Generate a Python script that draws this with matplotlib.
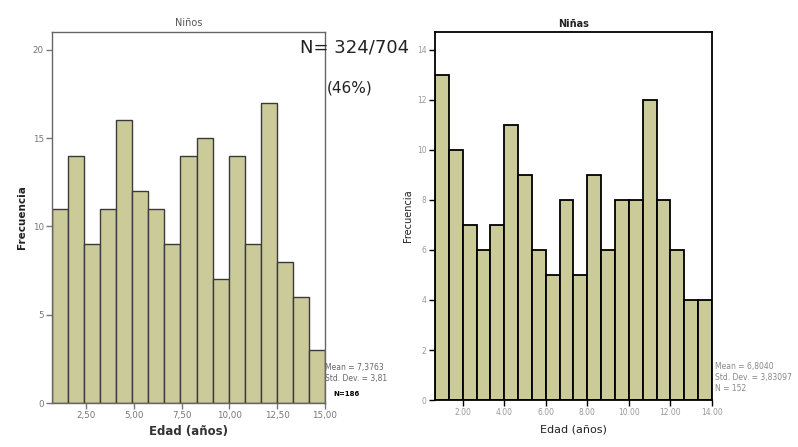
import matplotlib
matplotlib.use("Agg")
import matplotlib.pyplot as plt
import numpy as np

# Niños: 17 bins between 0.73 and 15
ninos_counts = [11, 14, 9, 11, 16, 12, 11, 9, 14, 15, 7, 14, 9, 17, 8, 6, 3]
ninos_range = (0.73, 15.0)
ninos_xticks = [2.5, 5.0, 7.5, 10.0, 12.5, 15.0]
ninos_xlabels = ["2,50", "5,00", "7,50", "10,00", "12,50", "15,00"]
ninos_yticks = [0, 5, 10, 15, 20]

# Niñas: 20 bins between 0.667 and 14
ninas_counts = [13, 10, 7, 6, 7, 11, 9, 6, 5, 8, 5, 9, 6, 8, 8, 12, 8, 6, 4, 4]
ninas_range = (2 / 3, 14.0)
ninas_xticks = [2, 4, 6, 8, 10, 12, 14]
ninas_xlabels = ["2.00", "4.00", "6.00", "8.00", "10.00", "12.00", "14.00"]
ninas_yticks = [0, 2, 4, 6, 8, 10, 12, 14]

bar_color = "#cbcb9a"

fig = plt.figure(figsize=(7.98, 4.47), dpi=100)
fig.patch.set_facecolor("white")


def draw_hist(ax, counts, rng, edge, lw):
    edges = np.linspace(rng[0], rng[1], len(counts) + 1)
    ax.bar(edges[:-1], counts, width=np.diff(edges), align="edge",
           color=bar_color, edgecolor=edge, linewidth=lw)
    ax.set_xlim(rng)


# left panel
ax1 = fig.add_axes([0.0652, 0.0984, 0.342, 0.830])
draw_hist(ax1, ninos_counts, ninos_range, "#3a3a3a", 1.0)
ax1.set_ylim(0, 21)
ax1.set_xticks(ninos_xticks)
ax1.set_xticklabels(ninos_xlabels)
ax1.set_yticks(ninos_yticks)
for s in ax1.spines.values():
    s.set_color("#666666")
    s.set_linewidth(1.0)
ax1.tick_params(colors="#777777", labelsize=6.3, length=4, width=1, pad=2)
ax1.set_title("Niños", fontsize=7, color="#555555", pad=4)
ax1.set_xlabel("Edad (años)", fontsize=8.5, fontweight="bold", color="#333333", labelpad=3)
ax1.set_ylabel("Frecuencia", fontsize=7.5, fontweight="bold", color="#222222", labelpad=4)
ax1.text(1.0, 0.055, "Mean = 7,3763\nStd. Dev. = 3,81", transform=ax1.transAxes,
         fontsize=5.5, color="#666666", va="bottom", ha="left", linespacing=1.3)
ax1.text(1.03, 0.015, "N=186", transform=ax1.transAxes, fontsize=5,
         fontweight="bold", color="black", va="bottom", ha="left")

# right panel
ax2 = fig.add_axes([0.5451, 0.105, 0.3471, 0.823])
draw_hist(ax2, ninas_counts, ninas_range, "black", 1.3)
ax2.set_ylim(0, 14.7)
ax2.set_xticks(ninas_xticks)
ax2.set_xticklabels(ninas_xlabels)
ax2.set_yticks(ninas_yticks)
for s in ax2.spines.values():
    s.set_color("black")
    s.set_linewidth(1.3)
ax2.tick_params(colors="black", labelcolor="#999999", labelsize=5.5, length=4,
                width=1, pad=2)
ax2.set_title("Niñas", fontsize=7, fontweight="bold", color="#222222", pad=4)
ax2.set_xlabel("Edad (años)", fontsize=8, color="#222222", labelpad=5)
ax2.set_ylabel("Frecuencia", fontsize=7, color="#222222", labelpad=3)
ax2.text(1.01, 0.02, "Mean = 6,8040\nStd. Dev. = 3,83097\nN = 152",
         transform=ax2.transAxes, fontsize=5.5, color="#888888",
         va="bottom", ha="left", linespacing=1.3)

# annotation
fig.text(0.376, 0.893, "N= 324/704", fontsize=13, color="#222222", va="center")
fig.text(0.410, 0.803, "(46%)", fontsize=11, color="#222222", va="center")

fig.savefig("out.png", dpi=100, facecolor="white")
